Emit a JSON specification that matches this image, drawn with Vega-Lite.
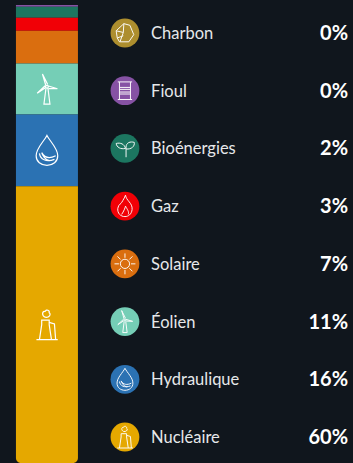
{
"$schema":"https://vega.github.io/schema/vega-lite/v6.json",
"autosize":{"type":"fit","contains":"padding"},
"width":353,"height":463,"padding":0,
"background":"#10161d",
"config":{"view":{"stroke":null}},
"data":{"values":[
{"source":"Charbon","share":0},
{"source":"Fioul","share":0.004},
{"source":"Bioénergies","share":0.024},
{"source":"Gaz","share":0.028},
{"source":"Solaire","share":0.072},
{"source":"Éolien","share":0.111},
{"source":"Hydraulique","share":0.157},
{"source":"Nucléaire","share":0.604}
]},
"transform":[
{"stack":"share","groupby":[],"sort":[{"field":"share","order":"descending"}],"as":["s0","s1"]},
{"calculate":"(datum.s0+datum.s1)/2","as":"mid"}
],
"resolve":{"scale":{"y":"independent"}},
"layer":[
{"transform":[{"filter":"datum.source!='Nucléaire'"}],
 "mark":{"type":"bar","width":62},
 "encoding":{
  "x":{"datum":13.3,"type":"quantitative","scale":{"domain":[0,100],"range":[0,353],"nice":false,"zero":false,"padding":0},"axis":null},
  "y":{"field":"s0","type":"quantitative","scale":{"domain":[0,1],"range":[463,5],"nice":false,"zero":false,"padding":0},"axis":null},
  "y2":{"field":"s1"},
  "color":{"field":"source","type":"nominal","legend":null,"scale":{"domain":["Charbon","Fioul","Bioénergies","Gaz","Solaire","Éolien","Hydraulique","Nucléaire"],"range":["#ad8e2e","#8652a4","#1c7660","#f10006","#da6e0f","#75ceb6","#2b72b3","#e5a800"]}}
 }},
{"transform":[{"filter":"datum.source=='Nucléaire'"}],
 "mark":{"type":"bar","width":62,"cornerRadiusBottomLeft":5,"cornerRadiusBottomRight":5},
 "encoding":{
  "x":{"datum":13.3,"type":"quantitative","axis":null},
  "y":{"field":"s0","type":"quantitative","scale":{"domain":[0,1],"range":[463,5],"nice":false,"zero":false,"padding":0},"axis":null},
  "y2":{"field":"s1"},
  "color":{"field":"source","type":"nominal","legend":null}
 }},
{"transform":[{"filter":"datum.share>0.1"}],
 "mark":{"type":"point","filled":false,"stroke":"#ffffff","strokeWidth":1.2,"opacity":1,"size":900},
 "encoding":{
  "x":{"datum":13.3,"type":"quantitative","axis":null},
  "y":{"field":"mid","type":"quantitative","scale":{"domain":[0,1],"range":[463,5],"nice":false,"zero":false,"padding":0},"axis":null},
  "shape":{"field":"source","type":"nominal","legend":null,"scale":{"domain":["Charbon","Fioul","Bioénergies","Gaz","Solaire","Éolien","Hydraulique","Nucléaire"],"range":[
"M-0.7,0.45 L-0.8,-0.2 L-0.1,-0.85 L0.45,-0.7 L0.8,0.15 L0.35,0.8 L-0.5,0.8 Z M-0.8,-0.2 L-0.15,-0.05 L-0.45,0.8 M-0.15,-0.05 L-0.1,-0.85 M-0.7,0.45 L-0.15,0.25",
"M-0.65,-0.8 L0.65,-0.8 M-0.65,0.8 L0.65,0.8 M-0.5,-0.8 L-0.5,0.8 M0.5,-0.8 L0.5,0.8 M-0.5,-0.3 L0.5,-0.3 M-0.5,-0.12 L0.5,-0.12 M-0.5,0.12 L0.5,0.12 M-0.5,0.3 L0.5,0.3",
"M0.1,0.8 L0.1,-0.1 C0.1,-0.55 0.5,-0.65 0.85,-0.55 C0.9,-0.2 0.6,0.1 0.1,0.05 M0.05,0 C-0.4,0.1 -0.75,-0.1 -0.8,-0.45 C-0.4,-0.55 -0.05,-0.4 0.05,0",
"M0.05,-1 C0.1,-0.5 0.7,-0.3 0.65,0.3 C0.6,0.75 0.3,0.95 0,0.95 C-0.4,0.95 -0.7,0.65 -0.65,0.2 C-0.6,-0.2 -0.3,-0.2 -0.2,-0.5 C-0.1,-0.7 0,-0.8 0.05,-1 Z M-0.3,0.75 C-0.1,0.45 0,0.2 0.05,0 C0.2,0.3 0.4,0.5 0.3,0.75",
"M0.42,0 A0.42,0.42 0 1 1 -0.42,0 A0.42,0.42 0 1 1 0.42,0 Z M0,-0.55 L0,-0.95 M0,0.55 L0,0.95 M-0.55,0 L-0.95,0 M0.55,0 L0.95,0 M-0.4,-0.4 L-0.68,-0.68 M0.4,-0.4 L0.68,-0.68 M-0.4,0.4 L-0.68,0.68 M0.4,0.4 L0.68,0.68",
"M-0.07,-0.02 L-0.2,1 L0.2,1 L0.07,-0.02 M-0.08,-0.25 L-0.3,-1 L0.05,-0.3 M0.1,-0.2 L0.7,-0.02 L0.1,-0.05 M-0.1,-0.08 L-0.65,0.28 L-0.12,-0.22 M0.09,-0.15 A0.09,0.09 0 1 1 -0.09,-0.15 A0.09,0.09 0 1 1 0.09,-0.15 Z",
"M0,-1 C0.2,-0.6 0.72,-0.15 0.72,0.35 C0.72,0.75 0.4,1 0,1 C-0.4,1 -0.72,0.75 -0.72,0.35 C-0.72,-0.15 -0.2,-0.6 0,-1 Z M-0.5,0.2 C-0.45,0.6 -0.05,0.8 0.5,0.6 M-0.35,0.15 C-0.15,0.5 0.2,0.55 0.58,0.35 M-0.35,0.15 C-0.3,0.35 -0.1,0.65 0.2,0.7",
"M-0.7,1 L0.72,1 M-0.5,1 L-0.35,0 L-0.35,-0.3 L0.15,-0.3 L0.15,0 L0.3,1 M0.15,-0.15 L0.5,-0.05 L0.58,1 M-0.12,-0.5 C-0.35,-0.6 -0.35,-0.9 -0.1,-0.9 C-0.05,-1.05 0.2,-0.95 0.15,-0.8 C0.3,-0.7 0.15,-0.45 -0.12,-0.5 Z"
]}}
 }},
{"mark":{"type":"point","filled":true,"opacity":1,"size":830},
 "encoding":{
  "x":{"datum":35.4,"type":"quantitative","axis":null},
  "y":{"field":"source","type":"nominal","sort":null,"scale":{"type":"point","domain":["Charbon","Fioul","Bioénergies","Gaz","Solaire","Éolien","Hydraulique","Nucléaire"],"range":[33,437],"padding":0},"axis":null},
  "color":{"field":"source","type":"nominal","legend":null},
  "shape":{"value":"circle"}
 }},
{"mark":{"type":"point","filled":false,"stroke":"#ffffff","strokeWidth":1,"opacity":0.95,"size":484},
 "encoding":{
  "x":{"datum":35.4,"type":"quantitative","axis":null},
  "y":{"field":"source","type":"nominal","sort":null,"scale":{"type":"point","domain":["Charbon","Fioul","Bioénergies","Gaz","Solaire","Éolien","Hydraulique","Nucléaire"],"range":[33,437],"padding":0},"axis":null},
  "shape":{"field":"source","type":"nominal","legend":null}
 }},
{"mark":{"type":"text","align":"left","baseline":"middle","dy":1,"font":"Lato","fontSize":16.5,"color":"#e6e8ea"},
 "encoding":{
  "x":{"datum":42.8,"type":"quantitative","axis":null},
  "y":{"field":"source","type":"nominal","sort":null,"scale":{"type":"point","domain":["Charbon","Fioul","Bioénergies","Gaz","Solaire","Éolien","Hydraulique","Nucléaire"],"range":[33,437],"padding":0},"axis":null},
  "text":{"field":"source","type":"nominal"}
 }},
{"mark":{"type":"text","align":"right","baseline":"middle","dy":1,"font":"Lato","fontSize":20,"fontWeight":"bold","color":"#ffffff"},
 "encoding":{
  "x":{"datum":98.6,"type":"quantitative","axis":null},
  "y":{"field":"source","type":"nominal","sort":null,"scale":{"type":"point","domain":["Charbon","Fioul","Bioénergies","Gaz","Solaire","Éolien","Hydraulique","Nucléaire"],"range":[33,437],"padding":0},"axis":null},
  "text":{"field":"share","type":"quantitative","format":".0%"}
 }}
]
}
